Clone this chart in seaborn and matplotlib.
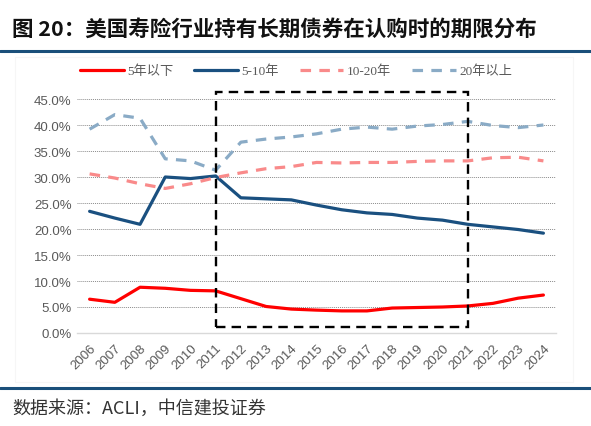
import matplotlib
matplotlib.use("Agg")
import matplotlib.pyplot as plt
import matplotlib.patches as patches
import matplotlib.lines as mlines
import pandas as pd
import seaborn as sns

# data (percent)
years = list(range(2006, 2025))
under_5 = [6.5, 5.9, 8.8, 8.6, 8.2, 8.1, 6.6, 5.1, 4.6, 4.4, 4.25, 4.25, 4.8, 4.9, 5.0, 5.2, 5.7, 6.7, 7.3]
y5_10 = [23.4, 22.1, 20.9, 30.0, 29.7, 30.2, 26.0, 25.8, 25.6, 24.6, 23.7, 23.1, 22.8, 22.1, 21.7, 20.9, 20.4, 19.9, 19.2]
y10_20 = [30.6, 29.8, 28.7, 27.8, 28.7, 29.9, 30.8, 31.6, 32.0, 32.8, 32.7, 32.8, 32.8, 33.0, 33.1, 33.1, 33.7, 33.8, 33.1]
over_20 = [39.2, 42.0, 41.3, 33.5, 33.1, 31.3, 36.7, 37.3, 37.7, 38.3, 39.2, 39.6, 39.2, 39.8, 40.1, 40.7, 39.9, 39.5, 40.0]
series_names = ["5年以下", "5-10年", "10-20年", "20年以上"]

df = pd.DataFrame({"year": years, series_names[0]: under_5, series_names[1]: y5_10,
                   series_names[2]: y10_20, series_names[3]: over_20})

sns.set_theme(style="white")
plt.rcParams['font.family'] = ['Liberation Sans', 'Noto Sans CJK SC', 'DejaVu Sans']

fig = plt.figure(figsize=(5.91, 4.27), dpi=100)
ax = fig.add_axes([0.1303, 0.2178, 0.8105, 0.548])

styles = {
    "5年以下": dict(color="#FF0000", linestyle="-"),
    "5-10年": dict(color="#1A5080", linestyle="-"),
    "10-20年": dict(color="#F98A8A", linestyle=(0, (3.3, 2.6))),
    "20年以上": dict(color="#8AABC6", linestyle=(0, (3.3, 2.6))),
}
for name in series_names:
    sns.lineplot(data=df, x="year", y=name, ax=ax, linewidth=2.3, label=name, **styles[name])

# grid / axes
ax.set_xlim(2005.5, 2024.5)
ax.set_ylim(0, 45)
ax.set_yticks(range(0, 46, 5))
ax.set_yticklabels([f"{v:.1f}%" for v in range(0, 46, 5)])
ax.set_xticks(years)
ax.set_xticklabels([str(y) for y in years], rotation=45, ha="right", rotation_mode="anchor")
for v in range(5, 46, 5):
    ax.axhline(v, color="#8C8C8C", lw=0.7, ls=(0, (1, 1)), zorder=0)
for s in ["top", "right", "left"]:
    ax.spines[s].set_visible(False)
ax.spines["bottom"].set_color("#D9D9D9")
ax.spines["bottom"].set_linewidth(1.0)
ax.tick_params(axis="both", labelsize=9.5, colors="#595959", length=0, pad=4)
ax.tick_params(axis="x", pad=6)
ax.set_xlabel("")
ax.set_ylabel("")

# dashed highlight box 2011-2021
box = patches.Rectangle((2011, 1.1), 10, 45.2, fill=False, edgecolor="black",
                        lw=1.7, ls=(0, (4, 2.6)), clip_on=False, zorder=5)
ax.add_patch(box)

# legend
leg = ax.legend(loc="center", bbox_to_anchor=(0.501, 0.831), bbox_transform=fig.transFigure,
                ncol=4, frameon=False, handlelength=3.3, columnspacing=1.6, handletextpad=0.25,
                prop={"family": ["Liberation Serif", "Noto Sans CJK SC"], "size": 9.5})
for t in leg.get_texts():
    t.set_color("#595959")

# faint chart frame
fig.patches.append(patches.Rectangle((15 / 591, 1 - 383 / 427), 558 / 591, 325 / 427,
                                     transform=fig.transFigure, fill=False,
                                     edgecolor="#F6F6F6", lw=0.8))

# title and rules
fig.text(12 / 591, 1 - 29 / 427, "图 20：美国寿险行业持有长期债券在认购时的期限分布",
         fontsize=15.5, fontweight="bold", color="#111111", va="center", ha="left",
         family=["Noto Sans CJK SC", "DejaVu Sans"])
fig.lines.append(mlines.Line2D([0, 1], [1 - 52 / 427] * 2, transform=fig.transFigure,
                               color="#1A4F7A", lw=2.2))
fig.lines.append(mlines.Line2D([0, 1], [1 - 389 / 427] * 2, transform=fig.transFigure,
                               color="#1A4F7A", lw=2.2))
fig.text(12 / 591, 1 - 409 / 427, "数据来源：ACLI，中信建投证券", fontsize=13,
         style="italic", color="#333333", va="center", ha="left",
         family=["Noto Sans CJK SC", "DejaVu Sans"])

fig.savefig("out.png", dpi=100)
